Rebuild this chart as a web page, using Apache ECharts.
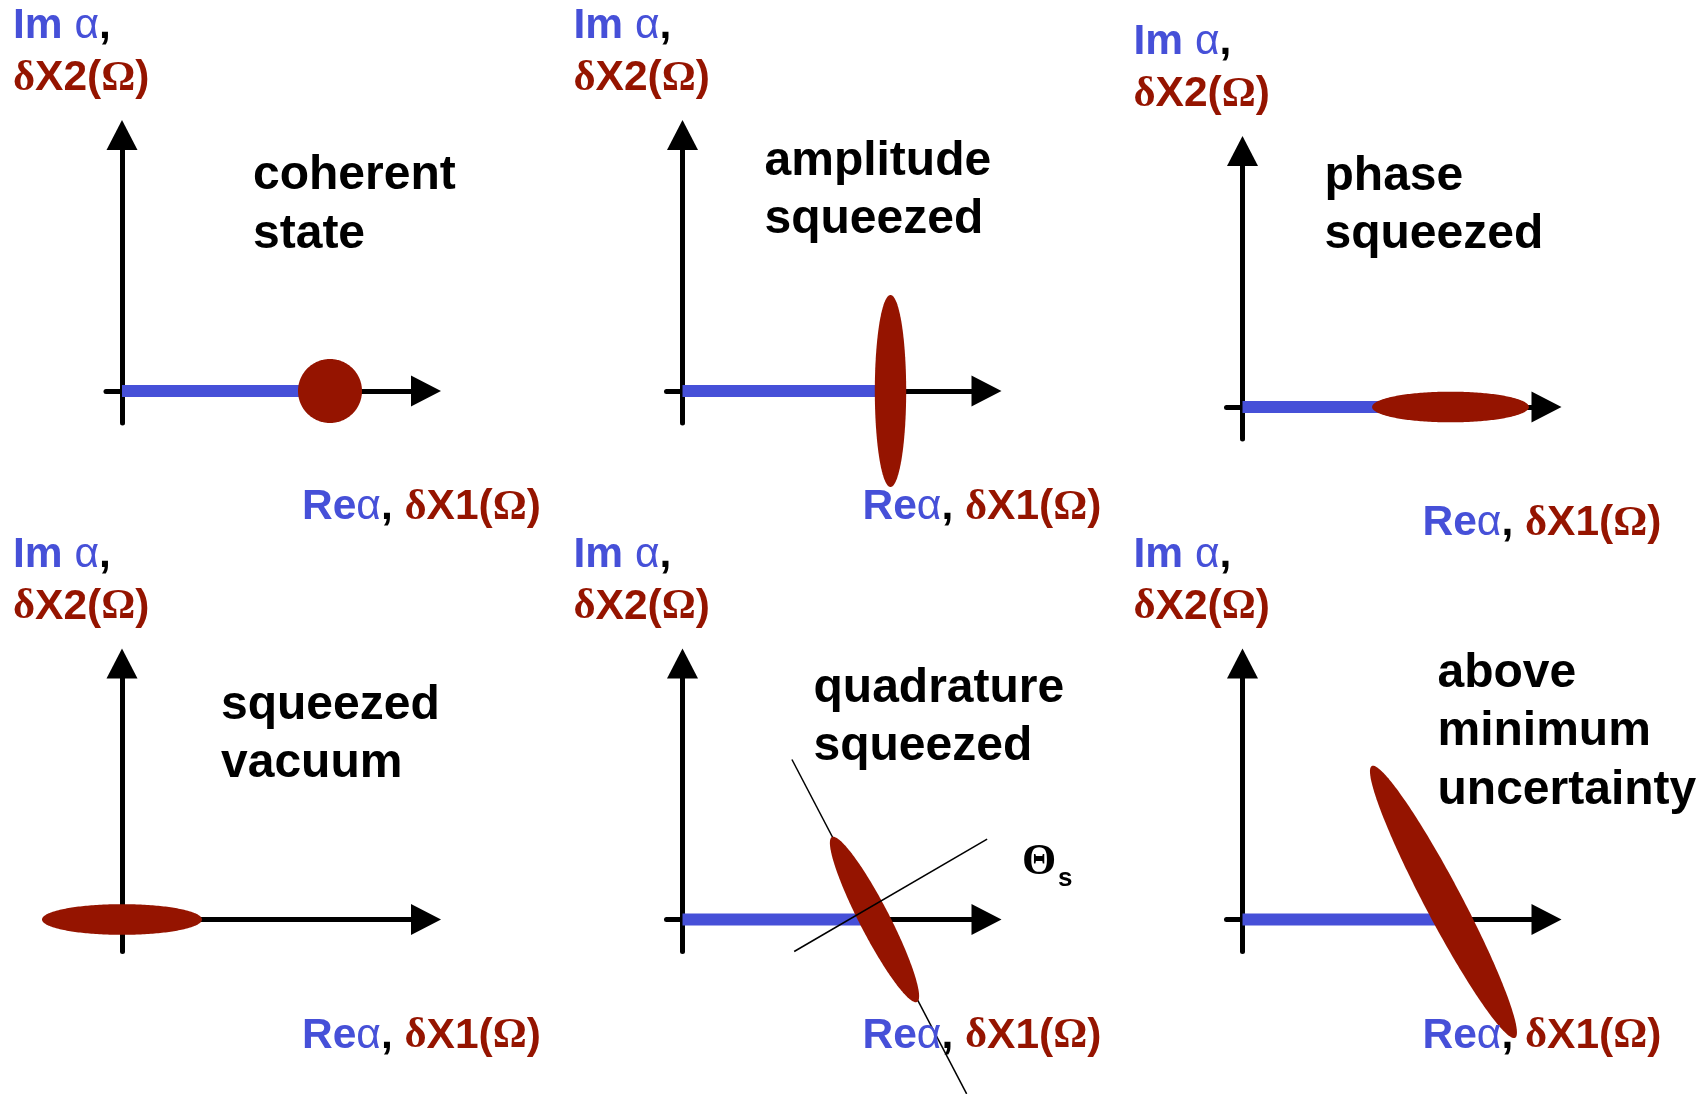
<!DOCTYPE html>
<html><head><meta charset="utf-8">
<script src="https://cdn.jsdelivr.net/npm/echarts@6/dist/echarts.min.js"></script>
<style>html,body{margin:0;padding:0;background:#fff}#c{width:1706px;height:1094px}</style>
</head><body><div id="c"></div>
<script>
// ---------------- data ----------------
const panelTitles = [
  ['coherent', 'state'],
  ['amplitude', 'squeezed'],
  ['phase', 'squeezed'],
  ['squeezed', 'vacuum'],
  ['quadrature', 'squeezed'],
  ['above', 'minimum', 'uncertainty']
];
const xAxisRange = [-0.5, 9.5];
const yAxisRange = [-1, 8];
// mean coherent amplitude (blue bar along Re alpha); null = none
const meanAmplitude = [6.5, 6.5, 6.5, null, 6.0, 6.2];
// noise ellipses
const ellipseCenterX = [6.5, 6.5, 6.5, 0, 6.0, 6.28];
const ellipseCenterY = [0, 0, 0, 0, 0, 0.55];
const ellipseSemiA  = [1.0, 3.0, 2.45, 2.5, 2.9, 4.8];
const ellipseSemiB  = [1.0, 0.49, 0.48, 0.48, 0.47, 0.58];
const ellipseAngle  = [0, 90, 0, 0, 117.3, 117.8];
// squeeze-angle guide lines (quadrature squeezed panel)
const guideLineA = [[3.42, 5.0], [8.88, -5.45]];
const guideLineB = [[3.49, -1.0], [9.52, 2.51]];
// axis texts
const xAxisLabel = ['Re', 'α', ', ', 'δ', 'X1(', 'Ω', ')'];
const yAxisLabel = [['Im ', 'α', ','], ['δ', 'X2(', 'Ω', ')']];
const angleLabel = ['Θ', 's'];

// ---------------- layout / style ----------------
const BLUE = '#4650d8', RED = '#951400';
const UNIT = 32;
const origins = [[122, 391], [682.5, 391], [1242.5, 407], [122, 919.5], [682.5, 919.5], [1242.5, 919.5]];
const titleOffset = [[131, -198.5], [82, -213], [82, -214], [99, -197.5], [131, -214.5], [195, -229.5]];
const TITLE_SIZE = 48, TITLE_LH = 58.5, LABEL_SIZE = 42.5;
const SANS = '"Liberation Sans", Arial, sans-serif';
const SERIF = '"Liberation Serif", "Times New Roman", serif';

const rich = {
  b: { fontSize: LABEL_SIZE, fontWeight: 'bold', fontFamily: SANS, fill: BLUE, color: BLUE, lineHeight: 52 },
  a: { fontSize: LABEL_SIZE, fontWeight: 'normal', fontFamily: SANS, fill: BLUE, color: BLUE, lineHeight: 52 },
  k: { fontSize: LABEL_SIZE, fontWeight: 'bold', fontFamily: SANS, fill: '#000', color: '#000', lineHeight: 52 },
  d: { fontSize: LABEL_SIZE, fontWeight: 'bold', fontFamily: SERIF, fill: RED, color: RED, lineHeight: 52 },
  r: { fontSize: LABEL_SIZE, fontWeight: 'bold', fontFamily: SANS, fill: RED, color: RED, lineHeight: 52 }
};
function tok(style, s) { return '{' + style + '|' + s + '}'; }
const yLine1 = tok('b', yAxisLabel[0][0]) + tok('a', yAxisLabel[0][1]) + tok('k', yAxisLabel[0][2]);
const yLine2 = tok('d', yAxisLabel[1][0]) + tok('r', yAxisLabel[1][1]) + tok('d', yAxisLabel[1][2]) + tok('r', yAxisLabel[1][3]);
const xLine = tok('b', xAxisLabel[0]) + tok('a', xAxisLabel[1]) + tok('k', xAxisLabel[2]) + tok('d', xAxisLabel[3]) +
              tok('r', xAxisLabel[4]) + tok('d', xAxisLabel[5]) + tok('r', xAxisLabel[6]);

function richText(x, baseline, text) {
  return { type: 'text', x: x, y: baseline - 0.3465 * LABEL_SIZE, silent: true, z: 10,
    style: { x: 0, y: 0, text: text, rich: rich, align: 'left', verticalAlign: 'middle',
             textAlign: 'left', textVerticalAlign: 'middle', fontSize: LABEL_SIZE, fontFamily: SANS } };
}
function plainText(x, baseline, text, size, family, weight, color) {
  return { type: 'text', x: x, y: baseline - 0.3465 * size, silent: true, z: 10,
    style: { x: 0, y: 0, text: text, fill: color, font: weight + ' ' + size + 'px ' + family,
             align: 'left', verticalAlign: 'middle', textAlign: 'left', textVerticalAlign: 'middle' } };
}

const grids = [], xAxes = [], yAxes = [], series = [], graphics = [];
origins.forEach(function (o, i) {
  grids.push({ left: o[0] + xAxisRange[0] * UNIT, top: o[1] - yAxisRange[1] * UNIT,
    width: (xAxisRange[1] - xAxisRange[0]) * UNIT, height: (yAxisRange[1] - yAxisRange[0]) * UNIT, containLabel: false });
  const axisCommon = {
    type: 'value', gridIndex: i,
    axisLine: { show: true, onZero: true, symbol: ['none', 'triangle'], symbolSize: [31, 30],
      lineStyle: { color: '#000', width: 5 } },
    axisTick: { show: false }, axisLabel: { show: false }, splitLine: { show: false }
  };
  xAxes.push(Object.assign({}, axisCommon, { min: xAxisRange[0], max: xAxisRange[1] }));
  yAxes.push(Object.assign({}, axisCommon, { min: yAxisRange[0], max: yAxisRange[1] }));

  if (meanAmplitude[i] != null) {
    series.push({ type: 'line', xAxisIndex: i, yAxisIndex: i, symbol: 'none', silent: true, z: 3,
      data: [[0, 0], [meanAmplitude[i], 0]], lineStyle: { color: BLUE, width: 12, cap: 'butt' } });
  }
  series.push({ type: 'custom', xAxisIndex: i, yAxisIndex: i, silent: true, z: 4, clip: false,
    data: [[ellipseCenterX[i], ellipseCenterY[i], ellipseSemiA[i], ellipseSemiB[i], ellipseAngle[i]]],
    renderItem: function (params, api) {
      const cx = api.value(0), cy = api.value(1), a = api.value(2), b = api.value(3);
      const ang = api.value(4) * Math.PI / 180;
      const pts = [];
      for (let k = 0; k < 240; k++) {
        const t = k / 240 * 2 * Math.PI;
        const dx = a * Math.cos(t) * Math.cos(ang) - b * Math.sin(t) * Math.sin(ang);
        const dy = a * Math.cos(t) * Math.sin(ang) + b * Math.sin(t) * Math.cos(ang);
        pts.push(api.coord([cx + dx, cy + dy]));
      }
      return { type: 'polygon', shape: { points: pts }, style: { fill: RED } };
    }
  });

  // axis labels
  graphics.push(richText(o[0] - 109, o[1] - 349.5, yLine1));
  graphics.push(richText(o[0] - 109, o[1] - 297.5, yLine2));
  graphics.push(richText(o[0] + 180, o[1] + 131.5, xLine));
  // titles
  panelTitles[i].forEach(function (t, j) {
    graphics.push(plainText(o[0] + titleOffset[i][0], o[1] + titleOffset[i][1] + j * TITLE_LH, t,
      TITLE_SIZE, SANS, 'bold', '#000'));
  });
});

// guide lines in quadrature squeezed panel
series.push({ type: 'line', xAxisIndex: 4, yAxisIndex: 4, symbol: 'none', silent: true, z: 3, clip: false,
  data: guideLineA, lineStyle: { color: '#000', width: 1.5 } });
series.push({ type: 'line', xAxisIndex: 4, yAxisIndex: 4, symbol: 'none', silent: true, z: 5, clip: false,
  data: guideLineB, lineStyle: { color: '#000', width: 1.5 } });

graphics.push(plainText(origins[4][0] + 339.5, origins[4][1] - 42, angleLabel[0], 44, SERIF, 'bold', '#000'));
graphics.push(plainText(origins[4][0] + 375.5, origins[4][1] - 32, angleLabel[1], 26, SANS, 'bold', '#000'));

const chart = echarts.init(document.getElementById('c'), null, { renderer: 'canvas' });
chart.setOption({
  backgroundColor: '#fff',
  animation: false,
  grid: grids, xAxis: xAxes, yAxis: yAxes, series: series,
  graphic: { elements: graphics }
});
</script></body></html>
